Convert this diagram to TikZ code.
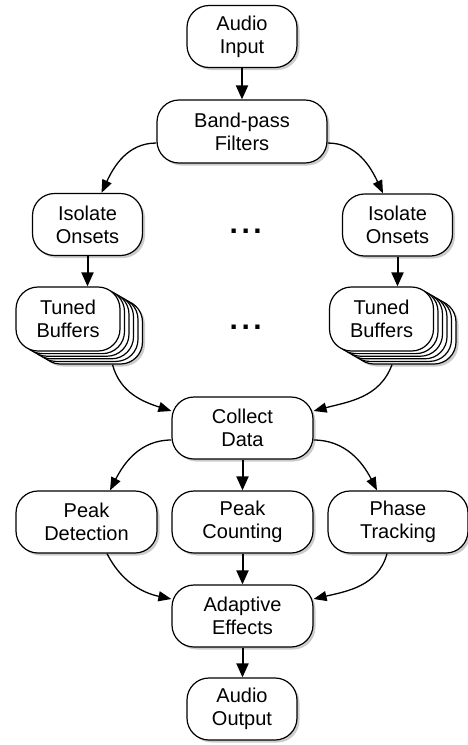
\documentclass[tikz,border=0pt]{standalone}
\usepackage{fontspec}
\setmainfont{Liberation Sans}
\usetikzlibrary{arrows.meta,shadows}
\begin{document}
\begin{tikzpicture}[x=1pt,y=1pt,
  boxbase/.style={draw, line width=1.2pt, fill=white, rounded corners=22pt,
    align=center, inner sep=0pt, font=\fontsize{20}{23}\selectfont},
  shad/.style={drop shadow={shadow xshift=2.5pt, shadow yshift=-2.5pt, opacity=0.4}},
  box/.style={boxbase, shad, minimum width=110pt, minimum height=62pt},
  wbox/.style={boxbase, shad, minimum width=141pt, minimum height=62pt},
  stackbox/.style={boxbase, minimum width=104pt, minimum height=64pt},
  sarrow/.style={line width=2pt, -{Triangle[length=14pt,width=12pt]}},
  carrow/.style={line width=1.3pt, -{Triangle[length=13pt,width=10pt]}},
  dots/.style={anchor=base, font=\fontsize{30}{30}\selectfont\bfseries}
]
\path[use as bounding box] (0,0) rectangle (468,-745);

% top
\node[box] (ai) at (242,-36.5) {Audio\\Input};
\node[boxbase, shad, minimum width=170pt, minimum height=63pt] (bp) at (242,-131.5) {Band-pass\\Filters};

% isolate onsets
\node[box] (isoL) at (87.5,-224.5) {Isolate\\Onsets};
\node[box] (isoR) at (397.5,-225) {Isolate\\Onsets};

% dots
\node[dots] (dots1) at (245.7,-233) {.\kern3.6pt.\kern3.6pt.};
\node[dots] (dots2) at (245.7,-329) {.\kern3.6pt.\kern3.6pt.};

% tuned buffers stacks (left)
\node[stackbox, shad] (tbL5) at (68+5*4.5,-319-5*2.6) {};
\foreach \k in {4,3,2,1} {
  \node[stackbox] (tbL\k) at (68+\k*4.5,-319-\k*2.6) {};
}
\node[stackbox] (tbL) at (68,-319) {Tuned\\Buffers};

% tuned buffers stacks (right)
\node[stackbox, shad] (tbR5) at (381.5+5*4.5,-319-5*2.6) {};
\foreach \k in {4,3,2,1} {
  \node[stackbox] (tbR\k) at (381.5+\k*4.5,-319-\k*2.6) {};
}
\node[stackbox] (tbR) at (381.5,-319) {Tuned\\Buffers};

% middle
\node[wbox] (cd) at (242.5,-428) {Collect\\Data};
\node[wbox] (pd) at (86.5,-522) {Peak\\Detection};
\node[wbox] (pc) at (242.5,-522) {Peak\\Counting};
\node[wbox, minimum width=140pt] (pt) at (398,-522) {Phase\\Tracking};
\node[wbox] (ae) at (242.5,-616) {Adaptive\\Effects};
\node[box] (ao) at (242,-709) {Audio\\Output};

% straight arrows
\draw[sarrow] (ai.south) -- (bp.north);
\draw[sarrow] (isoL.south) -- (isoL.south |- tbL.north);
\draw[sarrow] (isoR.south) -- (isoR.south |- tbR.north);
\draw[sarrow] (cd.south) -- (pc.north);
\draw[sarrow] (pc.south) -- (ae.north);
\draw[sarrow] (ae.south) -- (ae.south |- ao.north);

% curved arrows
\draw[carrow] ([yshift=-11.5pt]bp.west) to[out=180,in=65] ([xshift=14pt]isoL.north);
\draw[carrow] ([yshift=-11.5pt]bp.east) to[out=0,in=115] ([xshift=-14.5pt]isoR.north);

\draw[carrow] ([xshift=22pt]tbL5.south) to[out=-75,in=162] ([yshift=17pt]cd.west);
\draw[carrow] ([xshift=-12pt]tbR5.south) to[out=-110,in=15] ([yshift=17pt]cd.east);

\draw[carrow] ([yshift=-12pt]cd.west) to[out=180,in=63] ([xshift=23.5pt]pd.north);
\draw[carrow] ([yshift=-12pt]cd.east) to[out=0,in=117] ([xshift=-21pt]pt.north);

\draw[carrow] ([xshift=20.5pt]pd.south) to[out=-63,in=168] ([yshift=17pt]ae.west);
\draw[carrow] ([xshift=-11pt]pt.south) to[out=-105,in=13] ([yshift=17pt]ae.east);
\end{tikzpicture}
\end{document}
